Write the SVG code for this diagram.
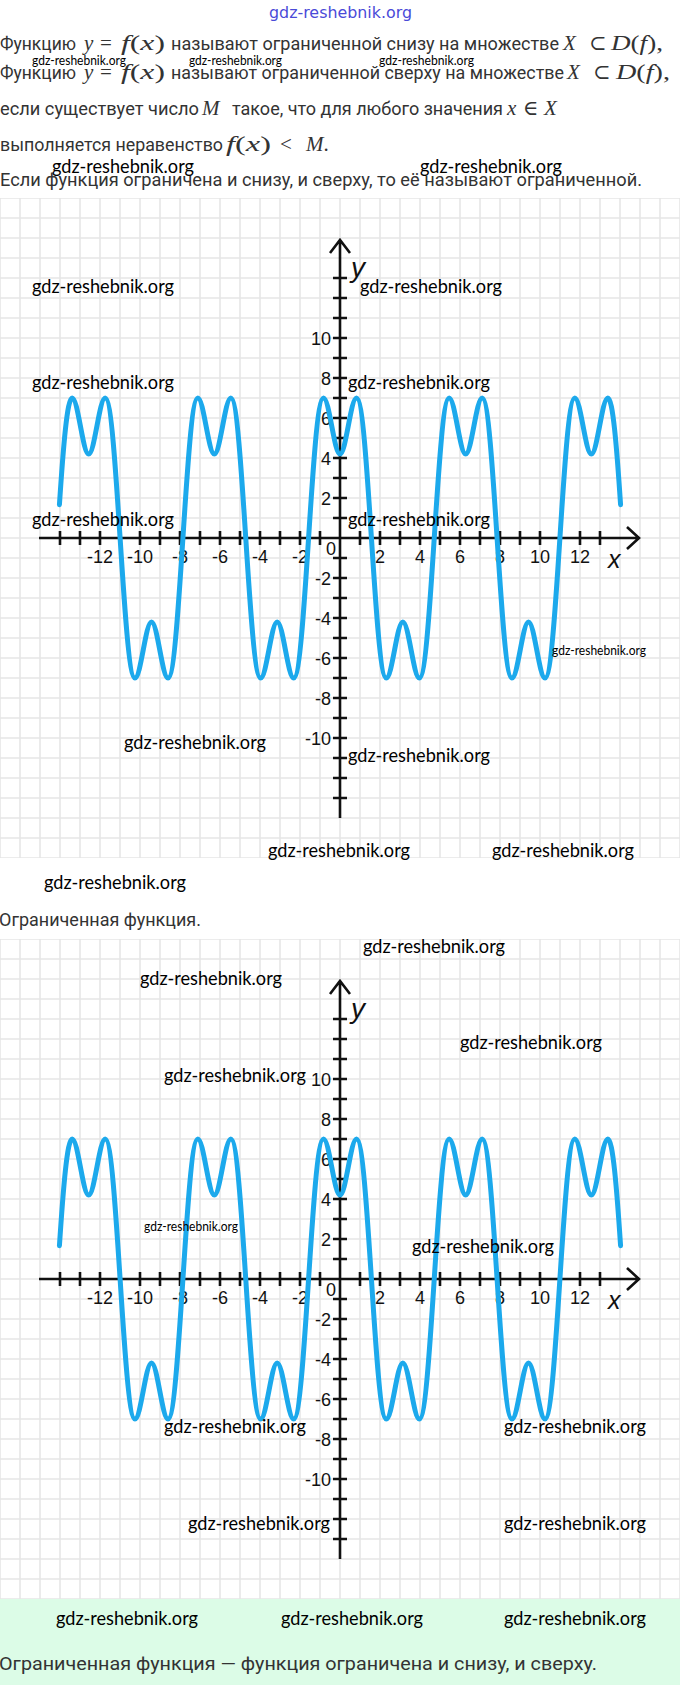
<svg xmlns="http://www.w3.org/2000/svg" xmlns:xlink="http://www.w3.org/1999/xlink" width="680" height="1685" viewBox="0 0 680 1685">
<style>
.t{font-family:Roboto,"Liberation Sans",sans-serif;font-size:18px;fill:#333}
.m{font-family:"Liberation Serif","DejaVu Serif",serif;font-size:21px;font-style:italic;fill:#333}
.mr{font-style:normal}
.wm{font-family:Lato,"Liberation Sans",sans-serif;font-size:19px;fill:#000}
.ws{font-size:12.5px}
.blue{font-family:"DejaVu Sans","Liberation Sans",sans-serif;font-size:16px;fill:#4a4ad8}
.lbl{font-family:"Liberation Sans",Arial,sans-serif;font-size:18px;fill:#111}
.ylb{text-anchor:end}
.xlb{text-anchor:middle}
.var{font-family:"Liberation Sans",Arial,sans-serif;font-style:italic;fill:#111}
.ax{stroke:#111;stroke-width:2.6;fill:none}
.curve{fill:none;stroke:#1ca9ec;stroke-width:5;stroke-linejoin:round;stroke-linecap:round}
</style>
<defs>
<pattern id="grid" width="20" height="20" patternUnits="userSpaceOnUse" x="-10" y="-10">
<path d="M0,10H20M10,0V20" stroke="#e6e6e6" stroke-width="1.6" fill="none"/>
</pattern>
<path id="curve" class="curve" d="M-280.57,-33.32C-276.75,-90.61 -272.78,-140 -267.87,-140C-262.05,-140 -257.15,-84 -251.33,-84C-245.51,-84 -240.60,-140 -234.78,-140C-223.08,-140 -216.74,140 -205.04,140C-199.22,140 -194.32,84 -188.50,84C-182.68,84 -177.78,140 -171.96,140C-160.26,140 -153.90,-140 -142.20,-140C-136.38,-140 -131.48,-84 -125.66,-84C-119.84,-84 -114.94,-140 -109.12,-140C-97.42,-140 -91.08,140 -79.38,140C-73.56,140 -68.65,84 -62.83,84C-57.01,84 -52.12,140 -46.30,140C-34.60,140 -28.24,-140 -16.54,-140C-10.72,-140 -5.82,-84 0,-84C5.82,-84 10.72,-140 16.54,-140C28.24,-140 34.60,140 46.30,140C52.12,140 57.01,84 62.83,84C68.65,84 73.56,140 79.38,140C91.08,140 97.42,-140 109.12,-140C114.94,-140 119.84,-84 125.66,-84C131.48,-84 136.38,-140 142.20,-140C153.90,-140 160.26,140 171.96,140C177.78,140 182.68,84 188.50,84C194.32,84 199.22,140 205.04,140C216.74,140 223.08,-140 234.78,-140C240.60,-140 245.51,-84 251.33,-84C257.15,-84 262.05,-140 267.87,-140C272.78,-140 276.75,-90.61 280.57,-33.32"/>
<path id="axes" class="ax" d="M0,-298V280M-10,-285L0,-298L10,-285M-301,0H299M287,-11L299,0L287,11M-7,-260h14M-7,-240h14M-7,-220h14M-7,-200h14M-7,-180h14M-7,-160h14M-7,-140h14M-7,-120h14M-7,-100h14M-7,-80h14M-7,-60h14M-7,-40h14M-7,-20h14M-7,20h14M-7,40h14M-7,60h14M-7,80h14M-7,100h14M-7,120h14M-7,140h14M-7,160h14M-7,180h14M-7,200h14M-7,220h14M-7,240h14M-7,260h14M-280,-7v14M-260,-7v14M-240,-7v14M-220,-7v14M-200,-7v14M-180,-7v14M-160,-7v14M-140,-7v14M-120,-7v14M-100,-7v14M-80,-7v14M-60,-7v14M-40,-7v14M-20,-7v14M20,-7v14M40,-7v14M60,-7v14M80,-7v14M100,-7v14M120,-7v14M140,-7v14M160,-7v14M180,-7v14M200,-7v14M220,-7v14M240,-7v14M260,-7v14"/>
</defs>
<rect width="680" height="1685" fill="#fff"/>
<rect x="0" y="1599" width="680" height="86" fill="#dcfce7"/>

<g id="intro">
<text class="blue" x="269" y="18" textLength="143" lengthAdjust="spacingAndGlyphs">gdz-reshebnik.org</text>
<text class="t" x="0" y="50" textLength="76" lengthAdjust="spacingAndGlyphs">Функцию</text>
<text class="m" x="84" y="50">y</text>
<text class="m mr" x="100" y="50">=</text>
<text class="m" x="121" y="50" textLength="44" lengthAdjust="spacingAndGlyphs">f<tspan class="mr">(</tspan>x<tspan class="mr">)</tspan></text>
<text class="t" x="171" y="50" textLength="388" lengthAdjust="spacingAndGlyphs">называют ограниченной снизу на множестве</text>
<text class="m" x="563" y="50">X</text>
<text class="m mr" x="589" y="50">⊂</text>
<text class="m" x="611" y="50" textLength="52" lengthAdjust="spacingAndGlyphs">D<tspan class="mr">(</tspan>f<tspan class="mr">),</tspan></text>

<text class="t" x="0" y="79" textLength="76" lengthAdjust="spacingAndGlyphs">Функцию</text>
<text class="m" x="84" y="79">y</text>
<text class="m mr" x="100" y="79">=</text>
<text class="m" x="121" y="79" textLength="44" lengthAdjust="spacingAndGlyphs">f<tspan class="mr">(</tspan>x<tspan class="mr">)</tspan></text>
<text class="t" x="171" y="79" textLength="393" lengthAdjust="spacingAndGlyphs">называют ограниченной сверху на множестве</text>
<text class="m" x="567" y="79">X</text>
<text class="m mr" x="593" y="79">⊂</text>
<text class="m" x="616" y="79" textLength="54" lengthAdjust="spacingAndGlyphs">D<tspan class="mr">(</tspan>f<tspan class="mr">),</tspan></text>

<text class="t" x="0" y="115" textLength="199" lengthAdjust="spacingAndGlyphs">если существует число</text>
<text class="m" x="202" y="115">M</text>
<text class="t" x="232" y="115" textLength="271" lengthAdjust="spacingAndGlyphs">такое, что для любого значения</text>
<text class="m" x="507" y="115">x</text>
<text class="m mr" x="523" y="115">∈</text>
<text class="m" x="544" y="115">X</text>

<text class="t" x="0" y="151" textLength="223" lengthAdjust="spacingAndGlyphs">выполняется неравенство</text>
<text class="m" x="226" y="151" textLength="45" lengthAdjust="spacingAndGlyphs">f<tspan class="mr">(</tspan>x<tspan class="mr">)</tspan></text>
<text class="m mr" x="280" y="151">&lt;</text>
<text class="m" x="306" y="151">M<tspan class="mr">.</tspan></text>

<text class="t" x="0" y="186" textLength="642" lengthAdjust="spacingAndGlyphs">Если функция ограничена и снизу, и сверху, то её называют ограниченной.</text>
</g>

<g id="graph1" transform="translate(340,538)">
<rect x="-340" y="-340" width="680" height="660" fill="url(#grid)"/>
<g class="lbl xlb">
<text x="-240" y="25">-12</text><text x="-200" y="25">-10</text><text x="-160" y="25">-8</text><text x="-120" y="25">-6</text><text x="-80" y="25">-4</text><text x="-40" y="25">-2</text>
<text x="-9" y="17">0</text>
<text x="40" y="25">2</text><text x="80" y="25">4</text><text x="120" y="25">6</text><text x="160" y="25">8</text><text x="200" y="25">10</text><text x="240" y="25">12</text>
</g>
<g class="lbl ylb">
<text x="-9" y="-193.5">10</text><text x="-9" y="-153.5">8</text><text x="-9" y="-113.5">6</text><text x="-9" y="-73.5">4</text><text x="-9" y="-33.5">2</text>
<text x="-9" y="46.5">-2</text><text x="-9" y="86.5">-4</text><text x="-9" y="126.5">-6</text><text x="-9" y="166.5">-8</text><text x="-9" y="206.5">-10</text>
</g>
<text class="var" x="11" y="-261" font-size="28">y</text>
<text class="var" x="268" y="30" font-size="25">x</text>
<use xlink:href="#axes"/>
<use xlink:href="#curve"/>
</g>

<g id="graph2" transform="translate(340,1279)">
<rect x="-340" y="-340" width="680" height="660" fill="url(#grid)"/>
<g class="lbl xlb">
<text x="-240" y="25">-12</text><text x="-200" y="25">-10</text><text x="-160" y="25">-8</text><text x="-120" y="25">-6</text><text x="-80" y="25">-4</text><text x="-40" y="25">-2</text>
<text x="-9" y="17">0</text>
<text x="40" y="25">2</text><text x="80" y="25">4</text><text x="120" y="25">6</text><text x="160" y="25">8</text><text x="200" y="25">10</text><text x="240" y="25">12</text>
</g>
<g class="lbl ylb">
<text x="-9" y="-193.5">10</text><text x="-9" y="-153.5">8</text><text x="-9" y="-113.5">6</text><text x="-9" y="-73.5">4</text><text x="-9" y="-33.5">2</text>
<text x="-9" y="46.5">-2</text><text x="-9" y="86.5">-4</text><text x="-9" y="126.5">-6</text><text x="-9" y="166.5">-8</text><text x="-9" y="206.5">-10</text>
</g>
<text class="var" x="11" y="-261" font-size="28">y</text>
<text class="var" x="268" y="30" font-size="25">x</text>
<use xlink:href="#axes"/>
<use xlink:href="#curve"/>
</g>

<g id="captions">
<text class="t" x="-1" y="926" textLength="202" lengthAdjust="spacingAndGlyphs">Ограниченная функция.</text>
<text class="t" x="-1" y="1670" font-size="19" textLength="598" lengthAdjust="spacingAndGlyphs">Ограниченная функция — функция ограничена и снизу, и сверху.</text>
</g>

<g id="watermarks">
<text class="wm ws" x="32" y="65" textLength="94" lengthAdjust="spacingAndGlyphs">gdz-reshebnik.org</text>
<text class="wm ws" x="189" y="65" textLength="93" lengthAdjust="spacingAndGlyphs">gdz-reshebnik.org</text>
<text class="wm ws" x="379" y="65" textLength="95" lengthAdjust="spacingAndGlyphs">gdz-reshebnik.org</text>
<text class="wm" x="52" y="173" textLength="142" lengthAdjust="spacingAndGlyphs">gdz-reshebnik.org</text>
<text class="wm" x="420" y="173" textLength="142" lengthAdjust="spacingAndGlyphs">gdz-reshebnik.org</text>
<text class="wm" x="32" y="293" textLength="142" lengthAdjust="spacingAndGlyphs">gdz-reshebnik.org</text>
<text class="wm" x="360" y="293" textLength="142" lengthAdjust="spacingAndGlyphs">gdz-reshebnik.org</text>
<text class="wm" x="32" y="389" textLength="142" lengthAdjust="spacingAndGlyphs">gdz-reshebnik.org</text>
<text class="wm" x="348" y="389" textLength="142" lengthAdjust="spacingAndGlyphs">gdz-reshebnik.org</text>
<text class="wm" x="32" y="526" textLength="142" lengthAdjust="spacingAndGlyphs">gdz-reshebnik.org</text>
<text class="wm" x="348" y="526" textLength="142" lengthAdjust="spacingAndGlyphs">gdz-reshebnik.org</text>
<text class="wm ws" x="552" y="655" textLength="94" lengthAdjust="spacingAndGlyphs">gdz-reshebnik.org</text>
<text class="wm" x="124" y="749" textLength="142" lengthAdjust="spacingAndGlyphs">gdz-reshebnik.org</text>
<text class="wm" x="348" y="762" textLength="142" lengthAdjust="spacingAndGlyphs">gdz-reshebnik.org</text>
<text class="wm" x="268" y="857" textLength="142" lengthAdjust="spacingAndGlyphs">gdz-reshebnik.org</text>
<text class="wm" x="492" y="857" textLength="142" lengthAdjust="spacingAndGlyphs">gdz-reshebnik.org</text>
<text class="wm" x="44" y="889" textLength="142" lengthAdjust="spacingAndGlyphs">gdz-reshebnik.org</text>
<text class="wm" x="363" y="953" textLength="142" lengthAdjust="spacingAndGlyphs">gdz-reshebnik.org</text>
<text class="wm" x="140" y="985" textLength="142" lengthAdjust="spacingAndGlyphs">gdz-reshebnik.org</text>
<text class="wm" x="460" y="1049" textLength="142" lengthAdjust="spacingAndGlyphs">gdz-reshebnik.org</text>
<text class="wm" x="164" y="1082" textLength="142" lengthAdjust="spacingAndGlyphs">gdz-reshebnik.org</text>
<text class="wm ws" x="144" y="1231" textLength="94" lengthAdjust="spacingAndGlyphs">gdz-reshebnik.org</text>
<text class="wm" x="412" y="1253" textLength="142" lengthAdjust="spacingAndGlyphs">gdz-reshebnik.org</text>
<text class="wm" x="164" y="1433" textLength="142" lengthAdjust="spacingAndGlyphs">gdz-reshebnik.org</text>
<text class="wm" x="504" y="1433" textLength="142" lengthAdjust="spacingAndGlyphs">gdz-reshebnik.org</text>
<text class="wm" x="188" y="1530" textLength="142" lengthAdjust="spacingAndGlyphs">gdz-reshebnik.org</text>
<text class="wm" x="504" y="1530" textLength="142" lengthAdjust="spacingAndGlyphs">gdz-reshebnik.org</text>
<text class="wm" x="56" y="1625" textLength="142" lengthAdjust="spacingAndGlyphs">gdz-reshebnik.org</text>
<text class="wm" x="281" y="1625" textLength="142" lengthAdjust="spacingAndGlyphs">gdz-reshebnik.org</text>
<text class="wm" x="504" y="1625" textLength="142" lengthAdjust="spacingAndGlyphs">gdz-reshebnik.org</text>
</g>
</svg>
